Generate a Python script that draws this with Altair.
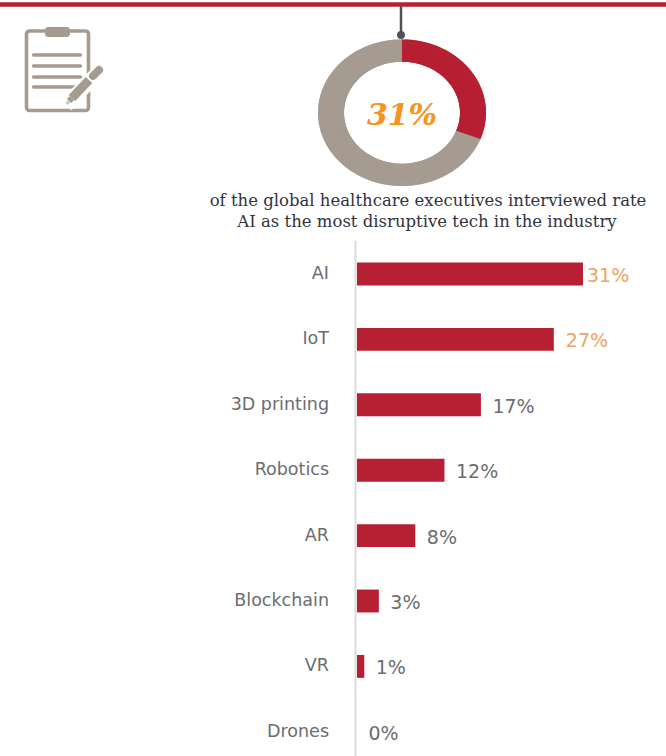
import altair as alt
import pandas as pd

categories = ["AI", "IoT", "3D printing", "Robotics", "AR", "Blockchain", "VR", "Drones"]
values = [31, 27, 17, 12, 8, 3, 1, 0]
headline_share = 31
caption_lines = [
    "of the global healthcare executives interviewed rate",
    "AI as the most disruptive tech in the industry",
]

RED = "#b71f33"
TAUPE = "#a69b91"
ORANGE = "#f7941d"
LABEL_ORANGE = "#f0a462"
GREY_TEXT = "#6b6d70"
DARK = "#4c5257"
SANS = "DejaVu Sans"
SERIF = "DejaVu Serif"

table = pd.DataFrame({"cat": categories, "val": values})
table["label"] = table["val"].astype(str) + "%"

# 0% sits at x=357, about 7.29 px per percentage point, eight rows of 65.4 px
x_scale = alt.Scale(domain=[-48.97, 42.39], range=[0, 666], nice=False, zero=False)
y_scale = alt.Scale(domain=categories, range=[241.3, 764.5], paddingInner=0.65, paddingOuter=0.325)
X = alt.X("val:Q", scale=x_scale, axis=None)
Y = alt.Y("cat:N", scale=y_scale, axis=None, sort=categories)
Y_TEXT = alt.Y("cat:N", scale=alt.Scale(domain=categories, range=[241.3, 764.5], padding=0.5),
               axis=None, sort=categories)


def hline(x1, x2, y, color, width, cap="butt"):
    return alt.Chart(pd.DataFrame({"k": [0]})).mark_rule(
        color=color, strokeWidth=width, strokeCap=cap
    ).encode(x=alt.value(x1), x2=alt.value(x2), y=alt.value(y), y2=alt.value(y))


def segment(x1, y1, x2, y2, color, width, cap="butt"):
    return alt.Chart(pd.DataFrame({"k": [0]})).mark_rule(
        color=color, strokeWidth=width, strokeCap=cap
    ).encode(x=alt.value(x1), x2=alt.value(x2), y=alt.value(y1), y2=alt.value(y2))


def caption(text, x, y, **kw):
    return alt.Chart(pd.DataFrame({"t": [text]})).mark_text(**kw).encode(
        text="t:N", x=alt.value(x), y=alt.value(y)
    )


# header band and the stem that drops onto the ring
band = hline(0, 666, 4.5, RED, 4.5)
stem = segment(401, 6, 401, 34, DARK, 2.5)
stem_dot = alt.Chart(pd.DataFrame({"k": [0]})).mark_point(
    filled=True, color=DARK, size=62, opacity=1
).encode(x=alt.value(401), y=alt.value(35))

# clipboard icon
board = alt.Chart(pd.DataFrame({"k": [0]})).mark_rect(
    fill="white", stroke=TAUPE, strokeWidth=3.6, cornerRadius=3
).encode(x=alt.value(26.5), x2=alt.value(88.5), y=alt.value(31), y2=alt.value(110.5))
clip = alt.Chart(pd.DataFrame({"k": [0]})).mark_rect(
    fill=TAUPE, cornerRadius=3
).encode(x=alt.value(45), x2=alt.value(70), y=alt.value(27), y2=alt.value(37))
icon_lines = [hline(33.5, 80.5, y, TAUPE, 3.4, "round") for y in (55, 66, 77, 87)]
pencil = [
    segment(66, 105, 99, 72, "white", 15),
    segment(72, 98, 89, 80, TAUPE, 9),
    segment(93, 76, 99, 70, TAUPE, 8, "round"),
    segment(69, 101, 72, 98, TAUPE, 6),
    segment(66.5, 104, 69, 101.5, "#c9c3bc", 3),
]

# the ring is slightly wider than tall, so it is swept as a fan of radial spokes
ring = (
    alt.Chart(alt.sequence(0, 100, 0.2, as_="pct"))
    .transform_calculate(
        t="2 * PI * datum.pct / 100",
        xi="402 + 58 * sin(datum.t)",
        xo="402 + 84 * sin(datum.t)",
        yi="112.7 - 51 * cos(datum.t)",
        yo="112.7 - 73.3 * cos(datum.t)",
        part=f"datum.pct < {headline_share} ? 'AI' : 'Other'",
    )
    .mark_rule(strokeWidth=1.7)
    .encode(
        x=alt.X("xi:Q", scale=None, axis=None),
        x2="xo:Q",
        y=alt.Y("yi:Q", scale=None, axis=None),
        y2="yo:Q",
        color=alt.Color(
            "part:N",
            scale=alt.Scale(domain=["AI", "Other"], range=[RED, TAUPE]),
            legend=None,
        ),
    )
)
ring_label = caption(
    f"{headline_share}%", 402, 116, font=SERIF, fontSize=30, fontWeight="bold",
    fontStyle="italic", color=ORANGE, align="center", baseline="middle",
)
caption_text = [
    caption(caption_lines[0], 428, 201, font=SERIF, fontSize=16.5, color="#33333b",
            align="center", baseline="middle"),
    caption(caption_lines[1], 427, 222, font=SERIF, fontSize=16.5, color="#33333b",
            align="center", baseline="middle"),
]

# bar chart
baseline_rule = segment(355.5, 241, 355.5, 756, "#dcdcdc", 2)
bars = alt.Chart(table).mark_bar(color=RED, cornerRadius=0).encode(x=X, x2=alt.value(357), y=Y)
cat_labels = alt.Chart(table).mark_text(
    font=SANS, fontSize=17.5, color=GREY_TEXT, align="right", baseline="middle"
).encode(x=alt.value(329), y=Y_TEXT, text="cat:N")


def value_labels(rows, dx, color):
    return alt.Chart(table.iloc[rows]).mark_text(
        font=SANS, fontSize=19, color=color, align="left", baseline="middle", dx=dx, dy=2
    ).encode(x=X, y=Y_TEXT, text="label:N")


labels_ai = value_labels([0], 4, LABEL_ORANGE)
labels_iot = value_labels([1], 12, LABEL_ORANGE)
labels_rest = value_labels(list(range(2, 8)), 11.5, GREY_TEXT)

chart = alt.layer(
    band, stem, stem_dot, board, clip, *icon_lines, *pencil,
    ring, ring_label, *caption_text,
    baseline_rule, bars, cat_labels, labels_ai, labels_iot, labels_rest,
).resolve_scale(x="independent", y="independent", color="independent").properties(
    width=666,
    height=756,
    padding=0,
    background="white",
    autosize=alt.AutoSizeParams(type="none"),
).configure_view(stroke=None)

chart.save("out.html", embed_options={"renderer": "svg", "actions": False})
